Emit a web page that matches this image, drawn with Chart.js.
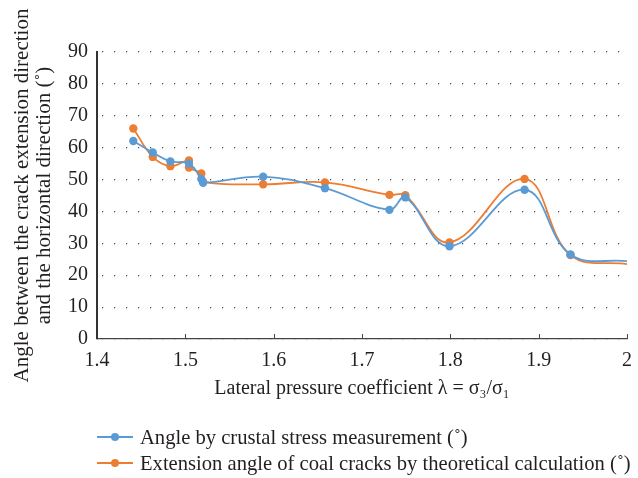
<!DOCTYPE html>
<html>
<head>
<meta charset="utf-8">
<script src="https://cdn.jsdelivr.net/npm/chart.js@4.4.1/dist/chart.umd.min.js"></script>
<style>
body{margin:0;background:#fff}
#wrap{position:relative;width:638px;height:478px}
#legend{position:absolute;left:97px;top:424px;font:20.6px 'Liberation Serif',serif;color:#231f20}
#legend div{display:flex;align-items:center;height:26px;white-space:nowrap}
#legend canvas{margin-right:7px}
</style>
</head>
<body>
<div id="wrap">
<canvas id="c1" width="638" height="478"></canvas>
<div id="legend"></div>
</div>
<script>
// values
var blueX = [1.441, 1.463, 1.483, 1.504, 1.518, 1.520, 1.588, 1.658, 1.731, 1.749, 1.799, 1.884, 1.936, 2.0];
var blueY = [62.1, 58.5, 55.7, 55.0, 50.2, 49.0, 50.9, 47.3, 40.5, 44.4, 29.1, 46.8, 26.5, 24.4];
var orangeX = [1.441, 1.463, 1.483, 1.504, 1.504, 1.518, 1.520, 1.588, 1.658, 1.731, 1.749, 1.799, 1.884, 1.936, 2.0];
var orangeY = [66.0, 57.1, 54.2, 56.0, 53.8, 51.9, 49.3, 48.5, 49.1, 45.2, 45.1, 30.3, 50.2, 26.3, 23.5];
var seriesNames = ['Angle by crustal stress measurement (˚)', 'Extension angle of coal cracks by theoretical calculation (˚)'];
var yTitle = ['Angle between the crack extension direction', 'and the horizontal direction (˚)'];
var xTitle = 'Lateral pressure coefficient λ = σ₃/σ₁';

function pts(xs, ys) {
  var out = [];
  for (var i = 0; i < xs.length; i++) out.push({x: xs[i], y: ys[i]});
  return out;
}
function radii(n) {
  var r = [];
  for (var i = 0; i < n; i++) r.push(i == n - 1 ? 0 : 4.2);
  return r;
}

var font = 'Liberation Serif';
var ink = '#231f20';

// small tick marks standing up from the x axis
var upTicks = {
  id: 'upTicks',
  afterDraw: function(chart) {
    var sx = chart.scales.x, ctx = chart.ctx, b = chart.chartArea.bottom;
    ctx.save();
    ctx.strokeStyle = '#444';
    ctx.lineWidth = 1;
    sx.ticks.forEach(function(t, i) {
      if (i == 0) return;
      var px = Math.round(sx.getPixelForValue(t.value)) + 0.5;
      ctx.beginPath();
      ctx.moveTo(px, b - 5);
      ctx.lineTo(px, b);
      ctx.stroke();
    });
    ctx.restore();
  }
};

var ctx = document.getElementById('c1').getContext('2d');
var chart1 = new Chart(ctx, {
  type: 'line',
  data: {
    datasets: [{
      label: seriesNames[0],
      data: pts(blueX, blueY),
      borderColor: '#5b9bd5',
      backgroundColor: '#5b9bd5',
      borderWidth: 1.8,
      pointRadius: radii(blueX.length),
      pointBorderWidth: 0,
      tension: 0.4
    }, {
      label: seriesNames[1],
      data: pts(orangeX, orangeY),
      borderColor: '#ed7d31',
      backgroundColor: '#ed7d31',
      borderWidth: 1.8,
      pointRadius: radii(orangeX.length),
      pointBorderWidth: 0,
      tension: 0.4
    }]
  },
  options: {
    responsive: false,
    animation: false,
    layout: {padding: {top: 52, right: 11, bottom: 73, left: 7}},
    plugins: {legend: {display: false}, tooltip: {enabled: false}},
    scales: {
      x: {
        type: 'linear',
        min: 1.4,
        max: 2,
        ticks: {
          stepSize: 0.1,
          color: ink,
          font: {family: font, size: 20},
          padding: 2,
          callback: function(v) { return String(Number(v.toFixed(1))); }
        },
        grid: {display: false},
        border: {color: '#444', width: 1.2},
        title: {display: true, text: xTitle, color: ink, font: {family: font, size: 20}, padding: {top: 2}}
      },
      y: {
        min: 0,
        max: 90,
        ticks: {
          stepSize: 5,
          color: ink,
          font: {family: font, size: 20},
          padding: 9,
          callback: function(v) { return v % 10 == 0 ? v : ''; }
        },
        grid: {
          color: '#444',
          lineWidth: 1.2,
          drawTicks: false
        },
        border: {color: '#333', width: 2, dash: [1.2, 10.8], dashOffset: -4},
        title: {display: true, text: yTitle, color: ink, font: {family: font, size: 21, lineHeight: 1.05}, padding: {bottom: 4}}
      }
    }
  },
  plugins: [upTicks]
});

// legend under the plot, built from the datasets
var leg = document.getElementById('legend');
chart1.data.datasets.forEach(function(ds) {
  var row = document.createElement('div');
  var sw = document.createElement('canvas');
  sw.width = 36; sw.height = 12;
  var g = sw.getContext('2d');
  g.strokeStyle = ds.borderColor; g.lineWidth = 1.8;
  g.beginPath(); g.moveTo(0, 6); g.lineTo(36, 6); g.stroke();
  g.fillStyle = ds.backgroundColor;
  g.beginPath(); g.arc(18, 6, 4, 0, Math.PI * 2); g.fill();
  var tx = document.createElement('span');
  tx.textContent = ds.label;
  row.appendChild(sw); row.appendChild(tx);
  leg.appendChild(row);
});
</script>
</body>
</html>
